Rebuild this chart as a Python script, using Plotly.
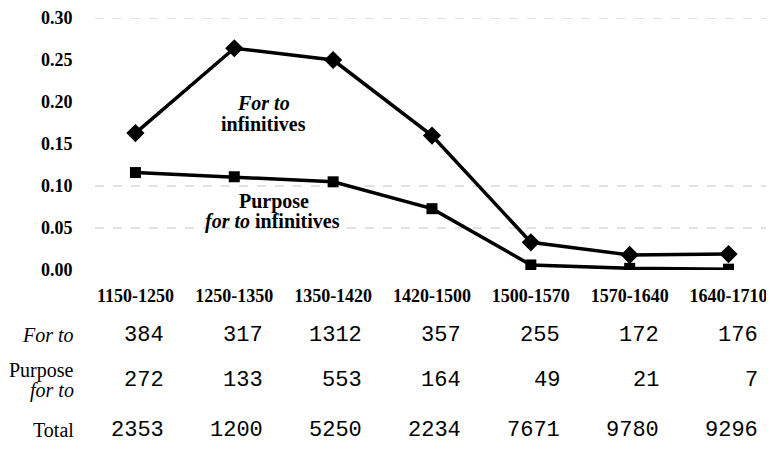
import plotly.graph_objects as go

periods = ["1150-1250", "1250-1350", "1350-1420", "1420-1500", "1500-1570", "1570-1640", "1640-1710"]
for_to_rate = [0.163, 0.264, 0.250, 0.160, 0.033, 0.018, 0.019]
purpose_rate = [0.116, 0.111, 0.105, 0.073, 0.006, 0.002, 0.001]
for_to_counts = [384, 317, 1312, 357, 255, 172, 176]
purpose_counts = [272, 133, 553, 164, 49, 21, 7]
total_counts = [2353, 1200, 5250, 2234, 7671, 9780, 9296]
y_ticks = [0.0, 0.05, 0.10, 0.15, 0.20, 0.25, 0.30]
grid_levels = [0.05, 0.10, 0.30]

xi = list(range(len(periods)))
SERIF = "Liberation Serif"
MONO = "Liberation Mono"

fig = go.Figure()
fig.add_trace(go.Scatter(x=xi, y=purpose_rate, mode="lines+markers",
                         line=dict(color="black", width=3.5),
                         marker=dict(symbol="square", size=11, color="black"),
                         showlegend=False, hoverinfo="skip"))
fig.add_trace(go.Scatter(x=xi, y=for_to_rate, mode="lines+markers",
                         line=dict(color="black", width=3.5),
                         marker=dict(symbol="diamond", size=14, color="black"),
                         showlegend=False, hoverinfo="skip"))

shapes = []
for g in grid_levels:
    shapes.append(dict(type="line", xref="paper", yref="y", x0=0.013, x1=0.995, y0=g, y1=g,
                       line=dict(color="#c4c4c4", width=1, dash="dash"), layer="below"))

ann = []
# in-chart labels
def lab(x, y, text):
    ann.append(dict(x=x, y=y, xref="x", yref="y", xanchor="center", yanchor="middle",
                    text=text, showarrow=False,
                    font=dict(family=SERIF, size=20, color="black")))

lab(1.295, 0.1986, "<b><i>For to</i></b>")
lab(1.295, 0.1734, "<b>infinitives</b>")
lab(1.406, 0.0813, "<b>Purpose</b>")
lab(1.39, 0.0574, "<b><i>for to</i> infinitives</b>")

# table row labels
lab_x = -0.0145
def rowlab(y, text):
    ann.append(dict(x=lab_x, y=y, xref="paper", yref="paper", xanchor="right", yanchor="middle",
                    text=text, showarrow=False, font=dict(family=SERIF, size=20, color="black")))

rowlab(-0.258, "<i>For to</i>")
rowlab(-0.400, "Purpose")
rowlab(-0.478, "<i>for to</i>")
rowlab(-0.635, "Total")

rows = [(for_to_counts, -0.258), (purpose_counts, -0.437), (total_counts, -0.635)]
for vals, yy in rows:
    for i, v in enumerate(vals):
        ann.append(dict(x=i, y=yy, xref="x", yref="paper", xanchor="right", yanchor="middle",
                        xshift=31, text=str(v), showarrow=False,
                        font=dict(family=MONO, size=22, color="black")))

# the page body adds an 8px offset, so the figure is 8px smaller in each direction
fig.update_layout(
    width=766, height=441,
    margin=dict(l=78, r=0, t=10, b=179, autoexpand=False),
    plot_bgcolor="white", paper_bgcolor="white",
    annotations=ann, shapes=shapes,
    xaxis=dict(range=[-0.5, 6.46], tickmode="array", tickvals=xi, ticktext=periods,
               automargin=False,
               showgrid=False, zeroline=False, showline=False,
               ticks="outside", ticklen=9, tickcolor="rgba(0,0,0,0)",
               tickfont=dict(family=SERIF, size=18, color="black", weight="bold")),
    yaxis=dict(range=[0, 0.30], tickmode="array", tickvals=y_ticks,
               ticktext=[f"{v:.2f}" for v in y_ticks],
               automargin=False,
               showgrid=False, zeroline=False, showline=False,
               ticks="outside", ticklen=9, tickcolor="rgba(0,0,0,0)",
               tickfont=dict(family=SERIF, size=18, color="black", weight="bold")),
)

fig.write_html("out.html")
